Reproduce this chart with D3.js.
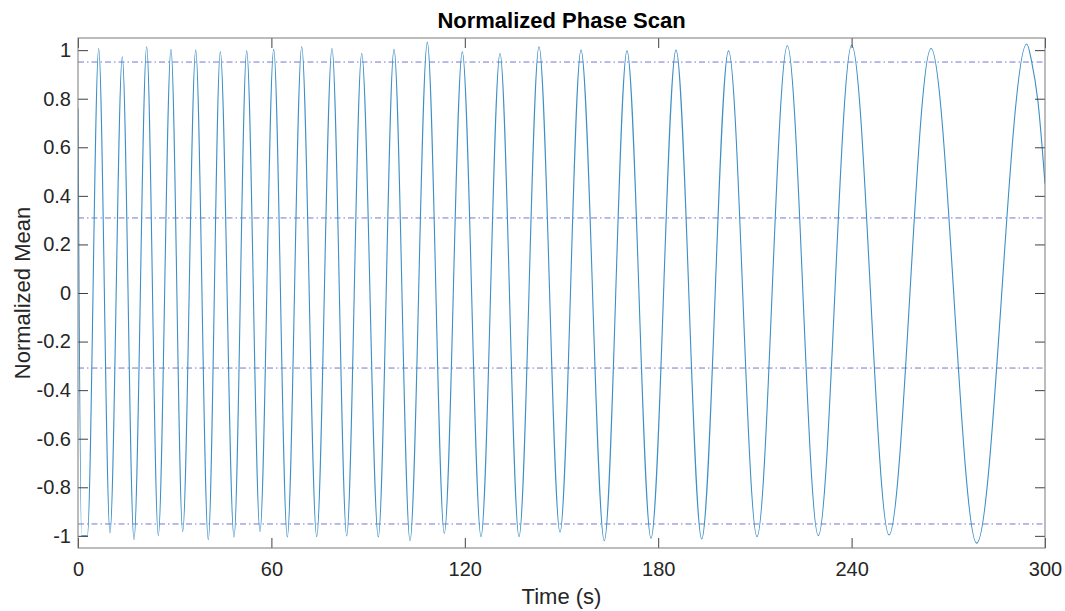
<!DOCTYPE html>
<html>
<head>
<meta charset="utf-8">
<script src="https://cdn.jsdelivr.net/npm/d3@7"></script>
<style>
  html, body { margin: 0; padding: 0; background: #ffffff; }
  svg { display: block; }
</style>
</head>
<body>
<svg id="chart" width="1065" height="611"></svg>
<script>
// ---- data ----
const timeS = [0, 1.1, 2.9, 6.42, 9.93, 13.74, 17.37, 21.31, 24.91, 28.85, 32.48, 36.52, 40.42,
  44.15, 48.40, 52.34, 56.46, 60.71, 64.93, 69.40, 74.05, 78.80, 83.36, 88.02, 93.17, 98.04,
  103.00, 108.37, 113.64, 119.22, 125.03, 130.92, 136.82, 143.02, 149.54, 156.05, 163.28,
  170.32, 177.77, 185.53, 193.5, 201.81, 210.65, 220.06, 229.67, 240.03, 251.61, 264.64,
  278.81, 294.33, 295.9, 297.8, 300];
const meanV = [0.76, -1.0, -1.0, 1.007, -0.988, 0.973, -1.016, 1.014, -0.999, 1.003, -0.982, 1.0, -1.016,
  0.993, -1.005, 0.997, -0.982, 1.003, -1.005, 1.014, -1.003, 1.007, -1.0, 0.986, -1.005, 1.003,
  -1.02, 1.032, -0.99, 0.993, -1.003, 0.986, -1.003, 1.014, -0.985, 1.0, -1.02,
  0.997, -1.01, 1.0, -1.013, 0.997, -1.003, 1.018, -0.999, 1.02, -0.996, 1.007,
  -1.03, 1.025, 0.95, 0.79, 0.45];
const refLevels = [0.951, 0.309, -0.309, -0.951];
const xTicks = [0, 60, 120, 180, 240, 300];
const yTicks = [-1, -0.8, -0.6, -0.4, -0.2, 0, 0.2, 0.4, 0.6, 0.8, 1];
const titleText = "Normalized Phase Scan";
const xLabelText = "Time (s)";
const yLabelText = "Normalized Mean";

// ---- layout ----
const L = 78, R = 1045, T = 38, B = 548;
const FONT = "'Liberation Sans', Arial, Helvetica, sans-serif";
const svg = d3.select("#chart");

const x = d3.scaleLinear().domain([0, 300]).range([L, R]);
const y = d3.scaleLinear().domain([-1.05, 1.05]).range([B, T]);

const pts = timeS.map((t, i) => ({ t, v: meanV[i] }));

// clip
svg.append("defs").append("clipPath").attr("id", "clip")
  .append("rect").attr("x", L).attr("y", T).attr("width", R - L).attr("height", B - T);

// reference dash-dot lines
svg.append("g").attr("clip-path", "url(#clip)")
  .selectAll("line").data(refLevels).join("line")
  .attr("x1", L).attr("x2", R)
  .attr("y1", d => y(d)).attr("y2", d => y(d))
  .attr("stroke", "#5b62c8").attr("stroke-width", 1)
  .attr("stroke-opacity", 0.85)
  .attr("stroke-dasharray", "6,3,1.5,3");

// signal
const line = d3.line().x(d => x(d.t)).y(d => y(d.v)).curve(d3.curveMonotoneX);
svg.append("path").datum(pts)
  .attr("clip-path", "url(#clip)")
  .attr("d", line)
  .attr("fill", "none")
  .attr("stroke", "#3d8fc6")
  .attr("stroke-width", 1.1)
  .attr("stroke-linejoin", "round");

// axes
const tickColor = "#404040";
function styleAxis(g) {
  g.select(".domain").remove();
  g.selectAll(".tick line").attr("stroke", tickColor).attr("stroke-width", 1);
  g.selectAll(".tick text").attr("fill", "#262626").style("font-family", FONT).style("font-size", "20px");
}
svg.append("g").attr("transform", `translate(0,${B})`)
  .call(d3.axisBottom(x).tickValues(xTicks).tickSizeInner(-10).tickSizeOuter(0).tickPadding(14)
    .tickFormat(d => String(d)))
  .call(styleAxis);
svg.append("g").attr("transform", `translate(0,${T})`)
  .call(d3.axisTop(x).tickValues(xTicks).tickSizeInner(-10).tickSizeOuter(0).tickFormat(""))
  .call(styleAxis);
svg.append("g").attr("transform", `translate(${L},0)`)
  .call(d3.axisLeft(y).tickValues(yTicks).tickSizeInner(-10).tickSizeOuter(0).tickPadding(7)
    .tickFormat(d => String(+d.toFixed(1))))
  .call(styleAxis);
svg.append("g").attr("transform", `translate(${R},0)`)
  .call(d3.axisRight(y).tickValues(yTicks).tickSizeInner(-10).tickSizeOuter(0).tickFormat(""))
  .call(styleAxis);

// frame
svg.append("rect").attr("x", L).attr("y", T).attr("width", R - L).attr("height", B - T)
  .attr("fill", "none").attr("stroke", "#7a7a7a").attr("stroke-width", 1);

// title and labels
svg.append("text").attr("x", (L + R) / 2).attr("y", 28)
  .attr("text-anchor", "middle").attr("fill", "#000")
  .style("font-family", FONT).style("font-size", "22px").style("font-weight", "bold")
  .text(titleText);
svg.append("text").attr("x", (L + R) / 2).attr("y", 604)
  .attr("text-anchor", "middle").attr("fill", "#262626")
  .style("font-family", FONT).style("font-size", "22px")
  .text(xLabelText);
svg.append("text")
  .attr("transform", `translate(30,${(T + B) / 2}) rotate(-90)`)
  .attr("text-anchor", "middle").attr("fill", "#262626")
  .style("font-family", FONT).style("font-size", "22px")
  .text(yLabelText);
</script>
</body>
</html>
